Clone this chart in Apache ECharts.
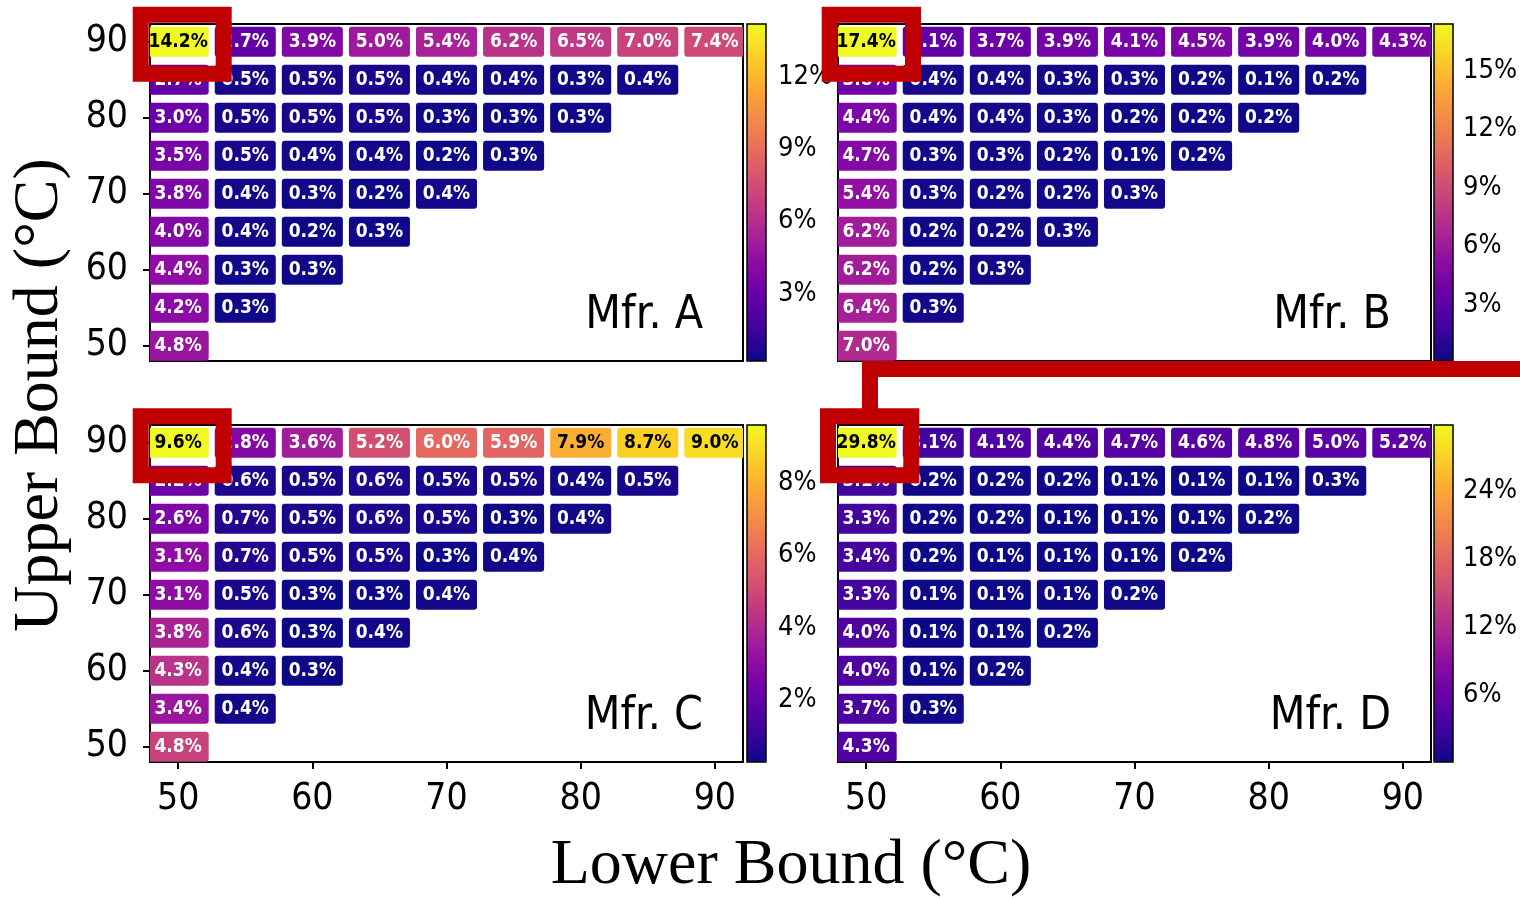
<!DOCTYPE html>
<html>
<head>
<meta charset="UTF-8">
<title>Upper / Lower bound heatmaps</title>
<script src="https://cdn.jsdelivr.net/npm/echarts@6/dist/echarts.min.js"></script>
<style>
  html, body { margin: 0; padding: 0; background: #fff; }
  #main { width: 1520px; height: 898px; }
</style>
</head>
<body>
<div id="main"></div>
<script>
// lower bound (x) and upper bound (y), in degrees C
var lowerBounds = [50, 55, 60, 65, 70, 75, 80, 85, 90];
var upperBounds = [90, 85, 80, 75, 70, 65, 60, 55, 50];
var tickValues = [50, 60, 70, 80, 90];
var panelNames = ['Mfr. A', 'Mfr. B', 'Mfr. C', 'Mfr. D'];

// one row per upper bound (90 -> 50), values for lower bound 50 .. upper bound (%)
var mfrA = [
  [14.2, 2.7, 3.9, 5.0, 5.4, 6.2, 6.5, 7.0, 7.4],
  [2.7, 0.5, 0.5, 0.5, 0.4, 0.4, 0.3, 0.4],
  [3.0, 0.5, 0.5, 0.5, 0.3, 0.3, 0.3],
  [3.5, 0.5, 0.4, 0.4, 0.2, 0.3],
  [3.8, 0.4, 0.3, 0.2, 0.4],
  [4.0, 0.4, 0.2, 0.3],
  [4.4, 0.3, 0.3],
  [4.2, 0.3],
  [4.8]
];
var mfrB = [
  [17.4, 3.1, 3.7, 3.9, 4.1, 4.5, 3.9, 4.0, 4.3],
  [3.8, 0.4, 0.4, 0.3, 0.3, 0.2, 0.1, 0.2],
  [4.4, 0.4, 0.4, 0.3, 0.2, 0.2, 0.2],
  [4.7, 0.3, 0.3, 0.2, 0.1, 0.2],
  [5.4, 0.3, 0.2, 0.2, 0.3],
  [6.2, 0.2, 0.2, 0.3],
  [6.2, 0.2, 0.3],
  [6.4, 0.3],
  [7.0]
];
var mfrC = [
  [9.6, 2.8, 3.6, 5.2, 6.0, 5.9, 7.9, 8.7, 9.0],
  [2.2, 0.6, 0.5, 0.6, 0.5, 0.5, 0.4, 0.5],
  [2.6, 0.7, 0.5, 0.6, 0.5, 0.3, 0.4],
  [3.1, 0.7, 0.5, 0.5, 0.3, 0.4],
  [3.1, 0.5, 0.3, 0.3, 0.4],
  [3.8, 0.6, 0.3, 0.4],
  [4.3, 0.4, 0.3],
  [3.4, 0.4],
  [4.8]
];
var mfrD = [
  [29.8, 3.1, 4.1, 4.4, 4.7, 4.6, 4.8, 5.0, 5.2],
  [3.1, 0.2, 0.2, 0.2, 0.1, 0.1, 0.1, 0.3],
  [3.3, 0.2, 0.2, 0.1, 0.1, 0.1, 0.2],
  [3.4, 0.2, 0.1, 0.1, 0.1, 0.2],
  [3.3, 0.1, 0.1, 0.1, 0.2],
  [4.0, 0.1, 0.1, 0.2],
  [4.0, 0.1, 0.2],
  [3.7, 0.3],
  [4.3]
];
var colorbarTicks = [[3, 6, 9, 12], [3, 6, 9, 12, 15], [2, 4, 6, 8], [6, 12, 18, 24]];

var plasma = ['#0d0887', '#41049d', '#6a00a8', '#8f0da4', '#b12a90', '#cc4778',
              '#e16462', '#f2844b', '#fca636', '#fcce25', '#f0f921'];

var SANS = '"DejaVu Sans Condensed", "DejaVu Sans", sans-serif';
var SERIF = '"Liberation Serif", "DejaVu Serif", serif';

var myChart = echarts.init(document.getElementById('main'));

var allData = [mfrA, mfrB, mfrC, mfrD];
var layout = [
  { left: 150, top: 24, cb: 747 },
  { left: 838, top: 24, cb: 1434 },
  { left: 150, top: 425, cb: 747 },
  { left: 838, top: 425, cb: 1434 }
];
var PW = 593, PH = 337, CBW = 19;

var ranges = allData.map(function (rows) {
  var flat = [].concat.apply([], rows);
  return [Math.min.apply(null, flat), Math.max.apply(null, flat)];
});

function renderCell(params, api) {
  var c = api.coord([api.value(0), api.value(1)]);
  var s = api.size([5, 5]);
  var w = s[0] * 0.91, h = s[1] * 0.79;
  var v = api.value(2);
  var r = ranges[params.seriesIndex];
  var dark = (v - r[0]) / (r[1] - r[0]) > 0.7;
  return {
    type: 'rect',
    shape: { x: c[0] - w / 2, y: c[1] - h / 2, width: w, height: h, r: 3 },
    style: { fill: api.visual('color') },
    textContent: {
      style: {
        text: v.toFixed(1) + '%',
        fill: dark ? '#000' : '#fff',
        font: 'bold 19px ' + SANS
      }
    },
    textConfig: { position: 'inside' }
  };
}

// heatmap panels use grid/axis 0..3, colour bars use 4..7
var grid = [], xAxis = [], yAxis = [], series = [], visualMap = [], graphic = [];
var cbGrid = [], cbX = [], cbY = [];

allData.forEach(function (rows, i) {
  var L = layout[i];
  var bottomRow = i >= 2, leftCol = i % 2 === 0;
  var data = [];
  rows.forEach(function (vals, r) {
    vals.forEach(function (v, c) {
      data.push([lowerBounds[c], upperBounds[r], v]);
    });
  });

  grid.push({ left: L.left, top: L.top, width: PW, height: PH, show: true,
              borderColor: '#000', borderWidth: 2, backgroundColor: '#fff' });
  xAxis.push({
    type: 'value', gridIndex: i, min: 47.9, max: 92.1,
    splitLine: { show: false }, axisLine: { show: false },
    axisTick: { show: bottomRow, customValues: tickValues, length: 7,
                lineStyle: { color: '#000', width: 2 } },
    axisLabel: { show: bottomRow, customValues: tickValues, margin: 19,
                 color: '#000', fontSize: 37, fontFamily: SANS }
  });
  yAxis.push({
    type: 'value', gridIndex: i, min: 48.0, max: 92.35,
    splitLine: { show: false }, axisLine: { show: false },
    axisTick: { show: leftCol, customValues: tickValues, length: 7,
                lineStyle: { color: '#000', width: 2 } },
    axisLabel: { show: leftCol, customValues: tickValues, margin: 22,
                 color: '#000', fontSize: 37, fontFamily: SANS }
  });
  series.push({
    type: 'custom', name: panelNames[i], xAxisIndex: i, yAxisIndex: i,
    encode: { x: 0, y: 1 }, renderItem: renderCell, data: data, clip: true
  });

  // colour bar: gradient from visualMap, ticks from its own axis
  visualMap.push({
    type: 'continuous', seriesIndex: i, dimension: 2,
    min: ranges[i][0], max: ranges[i][1],
    inRange: { color: plasma },
    calculable: false, hoverLink: false, padding: 0,
    itemWidth: CBW, itemHeight: PH, left: L.cb, top: L.top
  });
  cbGrid.push({ left: L.cb, top: L.top, width: CBW, height: PH, show: false });
  cbX.push({ type: 'value', gridIndex: 4 + i, show: false });
  cbY.push({
    type: 'value', gridIndex: 4 + i, position: 'right',
    min: ranges[i][0], max: ranges[i][1],
    splitLine: { show: false }, axisLine: { show: false },
    axisTick: { customValues: colorbarTicks[i], length: 6,
                lineStyle: { color: '#000', width: 1.5 } },
    axisLabel: { customValues: colorbarTicks[i], margin: 12, formatter: '{value}%',
                 color: '#000', fontSize: 27, fontFamily: SANS }
  });
  graphic.push({ type: 'rect', z: 100, silent: true,
    shape: { x: L.cb, y: L.top, width: CBW, height: PH },
    style: { fill: 'none', stroke: '#000', lineWidth: 1.5 } });

  graphic.push({ type: 'text', z: 100, silent: true,
    x: L.left + 553, y: L.top + 292,
    style: { text: panelNames[i], font: '46px ' + SANS, fill: '#000',
             align: 'right', verticalAlign: 'middle' } });
});

// axis titles
graphic.push({ type: 'text', silent: true, x: 40, y: 395, rotation: Math.PI / 2,
  style: { text: 'Upper Bound (°C)', font: '64px ' + SERIF, fill: '#000',
           align: 'center', verticalAlign: 'middle' } });
graphic.push({ type: 'text', silent: true, x: 791, y: 866,
  style: { text: 'Lower Bound (°C)', font: '64px ' + SERIF, fill: '#000',
           align: 'center', verticalAlign: 'middle' } });

// red call-out boxes
var RED = '#c00000';
[[140.7, 14.7, 83, 59], [829.7, 14.7, 83.3, 59],
 [140.7, 416.3, 83, 59], [828, 416.3, 83.3, 59]].forEach(function (b) {
  graphic.push({ type: 'rect', z: 200, silent: true,
    shape: { x: b[0], y: b[1], width: b[2], height: b[3] },
    style: { fill: 'none', stroke: RED, lineWidth: 16 } });
});
graphic.push({ type: 'rect', z: 200, silent: true,
  shape: { x: 862, y: 361, width: 658, height: 16 }, style: { fill: RED } });
graphic.push({ type: 'rect', z: 200, silent: true,
  shape: { x: 862, y: 361, width: 16, height: 50 }, style: { fill: RED } });

var option = {
  animation: false,
  backgroundColor: '#fff',
  grid: grid.concat(cbGrid),
  xAxis: xAxis.concat(cbX),
  yAxis: yAxis.concat(cbY),
  visualMap: visualMap,
  series: series,
  graphic: graphic
};
myChart.setOption(option);
</script>
</body>
</html>
